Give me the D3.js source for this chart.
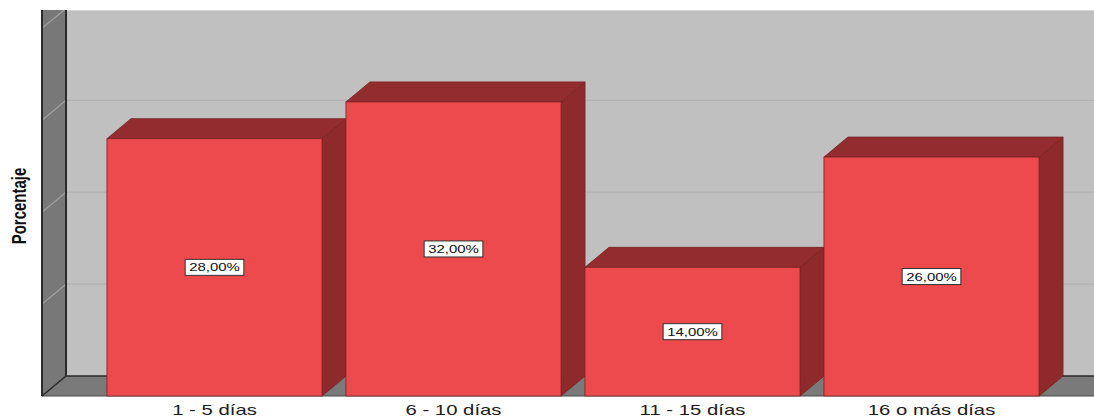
<!DOCTYPE html>
<html>
<head>
<meta charset="utf-8">
<script src="https://cdn.jsdelivr.net/npm/d3@7"></script>
<style>
  html, body { margin: 0; padding: 0; background: #ffffff; }
  svg { display: block; }
</style>
</head>
<body>
<svg id="chart" width="1094" height="417"></svg>
<script>
// Días de duración y porcentaje de casos
const categories = ["1 - 5 días", "6 - 10 días", "11 - 15 días", "16 o más días"];
const percentages = [28, 32, 14, 26];
const gridTicks = [10, 20, 30, 40];
const axisTitle = "Porcentaje";

const W = 1094, H = 417;
const depthX = 24, depthY = 20;      // 3D extrusion offset
const plotTop = 10;                  // top edge of the walls
const wallLeft = 42;                 // outer edge of the side wall
const floorFront = 396;              // front edge of the floor (value 0 at the front)
const stretch = 1.3;                 // horizontal text stretch

const colors = {
  backWall: "#c0c0c0",
  backGrid: "#aeaeae",
  sideWall: "#787878",
  sideGrid: "#a2a2a2",
  floor: "#7a7a7a",
  edge: "#2b2b2b",
  front: "#ec4a4c",
  top: "#922c2e",
  side: "#8e2a2c",
  barEdge: "#7a2224"
};

const svg = d3.select("#chart");

const x = d3.scaleBand()
  .domain(categories)
  .range([95, 1051])
  .paddingInner(0.1)
  .paddingOuter(0.05);

const y = d3.scaleLinear()
  .domain([0, 40])
  .range([floorFront, floorFront - 367.6]);

const yBack = v => y(v) - depthY;
const backLeft = wallLeft + depthX;
const floorBack = floorFront - depthY;

// Back wall
svg.append("rect")
  .attr("x", backLeft).attr("y", plotTop)
  .attr("width", W - backLeft).attr("height", floorBack - plotTop)
  .attr("fill", colors.backWall);

svg.append("line")
  .attr("x1", backLeft).attr("x2", W)
  .attr("y1", plotTop + 0.5).attr("y2", plotTop + 0.5)
  .attr("stroke", "#d6d6d6").attr("stroke-width", 1);

// Back-wall grid lines
svg.append("g").selectAll("line")
  .data(gridTicks.filter(t => yBack(t) > plotTop))
  .join("line")
  .attr("x1", backLeft).attr("x2", W)
  .attr("y1", d => yBack(d)).attr("y2", d => yBack(d))
  .attr("stroke", colors.backGrid).attr("stroke-width", 1);

// Side wall
const sideClip = svg.append("clipPath").attr("id", "sideClip");
const sidePts = [[wallLeft, plotTop], [backLeft, plotTop], [backLeft, floorBack], [wallLeft, floorFront]];
sideClip.append("polygon").attr("points", sidePts.map(p => p.join(",")).join(" "));

svg.append("polygon")
  .attr("points", sidePts.map(p => p.join(",")).join(" "))
  .attr("fill", colors.sideWall);

svg.append("g").attr("clip-path", "url(#sideClip)")
  .selectAll("line")
  .data(gridTicks)
  .join("line")
  .attr("x1", wallLeft).attr("y1", d => y(d))
  .attr("x2", backLeft).attr("y2", d => yBack(d))
  .attr("stroke", colors.sideGrid).attr("stroke-width", 1.2);

// Floor
const floorPts = [[wallLeft, floorFront], [backLeft, floorBack], [W + 5, floorBack], [W + 5, floorFront]];
svg.append("polygon")
  .attr("points", floorPts.map(p => p.join(",")).join(" "))
  .attr("fill", colors.floor);

svg.append("line")
  .attr("x1", backLeft).attr("x2", W)
  .attr("y1", floorBack).attr("y2", floorBack)
  .attr("stroke", colors.edge).attr("stroke-width", 1.6);
svg.append("line")
  .attr("x1", wallLeft).attr("x2", W)
  .attr("y1", floorFront).attr("y2", floorFront)
  .attr("stroke", "#4a4a4a").attr("stroke-width", 1.2);
svg.append("line")
  .attr("x1", wallLeft).attr("y1", floorFront)
  .attr("x2", backLeft).attr("y2", floorBack)
  .attr("stroke", colors.edge).attr("stroke-width", 1.6);

// Side wall edges
svg.append("line")
  .attr("x1", wallLeft).attr("x2", wallLeft)
  .attr("y1", plotTop).attr("y2", floorFront)
  .attr("stroke", colors.edge).attr("stroke-width", 2);
svg.append("line")
  .attr("x1", backLeft).attr("x2", backLeft)
  .attr("y1", plotTop).attr("y2", floorBack)
  .attr("stroke", colors.edge).attr("stroke-width", 2);

// Bars
const bars = svg.append("g").selectAll("g")
  .data(categories.map((c, i) => ({ cat: c, value: percentages[i] })))
  .join("g");

const bw = x.bandwidth();

bars.append("polygon")  // side face
  .attr("points", d => {
    const x1 = x(d.cat) + bw;
    return [[x1, y(d.value)], [x1 + depthX, y(d.value) - depthY],
            [x1 + depthX, y(0) - depthY], [x1, y(0)]].map(p => p.join(",")).join(" ");
  })
  .attr("fill", colors.side)
  .attr("stroke", colors.barEdge).attr("stroke-width", 0.8);

bars.append("polygon")  // top face
  .attr("points", d => {
    const x0 = x(d.cat), x1 = x0 + bw, yt = y(d.value);
    return [[x0, yt], [x0 + depthX, yt - depthY], [x1 + depthX, yt - depthY], [x1, yt]]
      .map(p => p.join(",")).join(" ");
  })
  .attr("fill", colors.top)
  .attr("stroke", colors.barEdge).attr("stroke-width", 0.8);

bars.append("rect")     // front face
  .attr("x", d => x(d.cat))
  .attr("y", d => y(d.value))
  .attr("width", bw)
  .attr("height", d => y(0) - y(d.value))
  .attr("fill", colors.front)
  .attr("stroke", colors.barEdge).attr("stroke-width", 0.8);

// Value labels
const esLocale = d3.formatLocale({ decimal: ",", thousands: ".", grouping: [3], currency: ["", " €"] });
const fmt = v => esLocale.format(".2f")(v) + "%";

bars.each(function (d) {
  const g = d3.select(this);
  const cx = x(d.cat) + bw / 2;
  const cy = (y(d.value) + y(0)) / 2;
  const lab = g.append("g").attr("transform", `translate(${cx},${cy})`);
  const box = lab.append("rect");
  const t = lab.append("text")
    .attr("text-anchor", "middle")
    .attr("dy", "0.36em")
    .attr("transform", `scale(${stretch},1)`)
    .style("font-family", "'Liberation Sans', Arial, sans-serif")
    .style("font-size", "11.5px")
    .attr("fill", "#111")
    .text(fmt(d.value));
  const tw = t.node().getComputedTextLength() * stretch;
  box.attr("x", -tw / 2 - 4).attr("y", -8)
    .attr("width", tw + 8).attr("height", 16)
    .attr("fill", "#ffffff")
    .attr("stroke", "#333").attr("stroke-width", 1);
});

// Category labels
svg.append("g").selectAll("text")
  .data(categories)
  .join("text")
  .attr("transform", d => `translate(${x(d) + bw / 2},414.5) scale(1.32,1)`)
  .attr("text-anchor", "middle")
  .style("font-family", "'Liberation Sans', Arial, sans-serif")
  .style("font-size", "15.4px")
  .attr("fill", "#1c1c1c")
  .text(d => d);

// Axis title
svg.append("text")
  .attr("transform", `translate(26,${(plotTop + floorFront) / 2 + 3}) scale(${stretch},1) rotate(-90)`)
  .attr("text-anchor", "middle")
  .style("font-family", "'Liberation Sans Narrow', 'Arial Narrow', 'Liberation Sans', sans-serif")
  .style("font-weight", "bold")
  .style("font-size", "15px")
  .attr("fill", "#111")
  .text(axisTitle);
</script>
</body>
</html>
